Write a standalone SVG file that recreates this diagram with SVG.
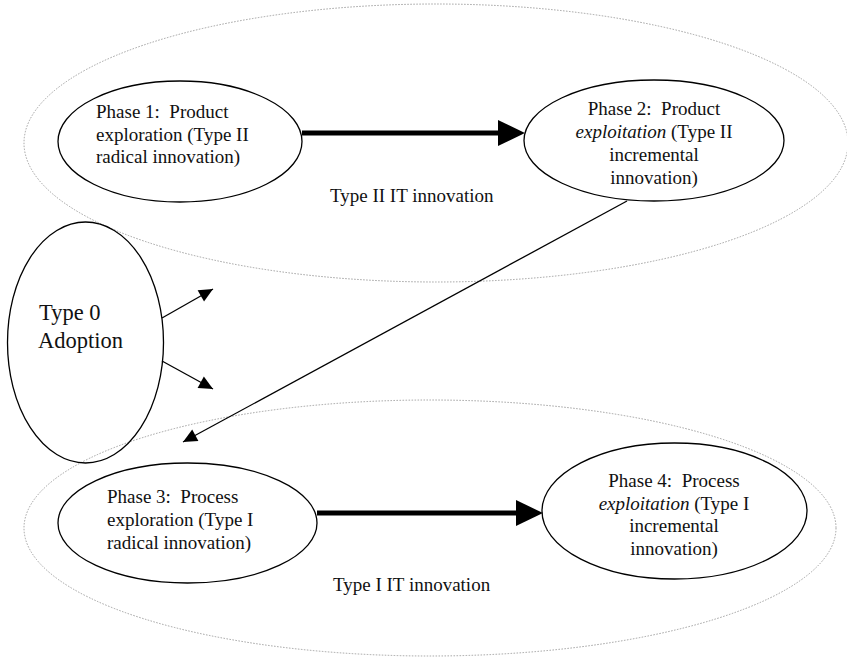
<svg xmlns="http://www.w3.org/2000/svg" width="847" height="659" viewBox="0 0 847 659">
  <style>
    .zone { fill: none; stroke: #a0a0a0; stroke-width: 1; stroke-dasharray: 1.5 1.5; }
    .node { fill: none; stroke: #000; stroke-width: 1.3; }
    .txt { font-family: "Liberation Serif", "Times New Roman", serif; font-size: 19px; fill: #111; white-space: pre; }
    .mid { text-anchor: middle; }
    .big { font-size: 22.5px; }
    .thin { stroke: #000; stroke-width: 1.3; fill: none; }
    .thick { stroke: #000; stroke-width: 5; fill: none; }
  </style>
  <defs>
    <marker id="head" markerUnits="userSpaceOnUse" markerWidth="16" markerHeight="14" viewBox="0 -7 15 14" refX="14" refY="0" orient="auto">
      <path d="M0,-6.5 L14,0 L0,6.5 z" fill="#000"/>
    </marker>
    <marker id="bighead" markerUnits="userSpaceOnUse" markerWidth="28" markerHeight="28" viewBox="0 -13 27 26" refX="0" refY="0" orient="auto">
      <path d="M0,-12.5 L26,0 L0,12.5 z" fill="#000"/>
    </marker>
  </defs>

  <!-- innovation zones -->
  <g id="zone-type2">
    <ellipse class="zone" cx="436" cy="143" rx="412" ry="139"/>
    <text class="txt" x="330" y="202">Type II IT innovation</text>
  </g>
  <g id="zone-type1">
    <ellipse class="zone" cx="430" cy="528" rx="406" ry="128"/>
    <text class="txt" x="333" y="591">Type I IT innovation</text>
  </g>

  <!-- connectors -->
  <g id="connectors">
    <line class="thick" x1="302" y1="133" x2="498" y2="133" marker-end="url(#bighead)"/>
    <line class="thick" x1="317" y1="513" x2="516" y2="513" marker-end="url(#bighead)"/>
    <line class="thin" x1="627" y1="201" x2="183" y2="442" marker-end="url(#head)"/>
    <line class="thin" x1="162" y1="318" x2="213" y2="289" marker-end="url(#head)"/>
    <line class="thin" x1="162" y1="361" x2="213" y2="389" marker-end="url(#head)"/>
  </g>

  <!-- phases -->
  <g id="phase1">
    <ellipse class="node" cx="180" cy="141.5" rx="122" ry="60.5"/>
    <text class="txt" x="96" y="118" xml:space="preserve">Phase 1:  Product</text>
    <text class="txt" x="96" y="140.5">exploration (Type II</text>
    <text class="txt" x="96" y="163">radical innovation)</text>
  </g>
  <g id="phase2">
    <ellipse class="node" cx="654" cy="140.5" rx="130" ry="60.5"/>
    <text class="txt mid" x="654" y="115" xml:space="preserve">Phase 2:  Product</text>
    <text class="txt mid" x="654" y="138"><tspan font-style="italic">exploitation</tspan> (Type II</text>
    <text class="txt mid" x="654" y="161">incremental</text>
    <text class="txt mid" x="654" y="183.5">innovation)</text>
  </g>
  <g id="phase3">
    <ellipse class="node" cx="187.5" cy="523" rx="129.5" ry="60"/>
    <text class="txt" x="107" y="503" xml:space="preserve">Phase 3:  Process</text>
    <text class="txt" x="107" y="526">exploration (Type I</text>
    <text class="txt" x="107" y="549">radical innovation)</text>
  </g>
  <g id="phase4">
    <ellipse class="node" cx="674.5" cy="511" rx="132.5" ry="68"/>
    <text class="txt mid" x="674" y="487" xml:space="preserve">Phase 4:  Process</text>
    <text class="txt mid" x="674" y="509.5"><tspan font-style="italic">exploitation</tspan> (Type I</text>
    <text class="txt mid" x="674" y="532">incremental</text>
    <text class="txt mid" x="674" y="555">innovation)</text>
  </g>
  <g id="type0">
    <ellipse class="node" cx="85.5" cy="342.5" rx="78" ry="120.5"/>
    <text class="txt big" x="39" y="320">Type 0</text>
    <text class="txt big" x="38" y="348">Adoption</text>
  </g>
</svg>
